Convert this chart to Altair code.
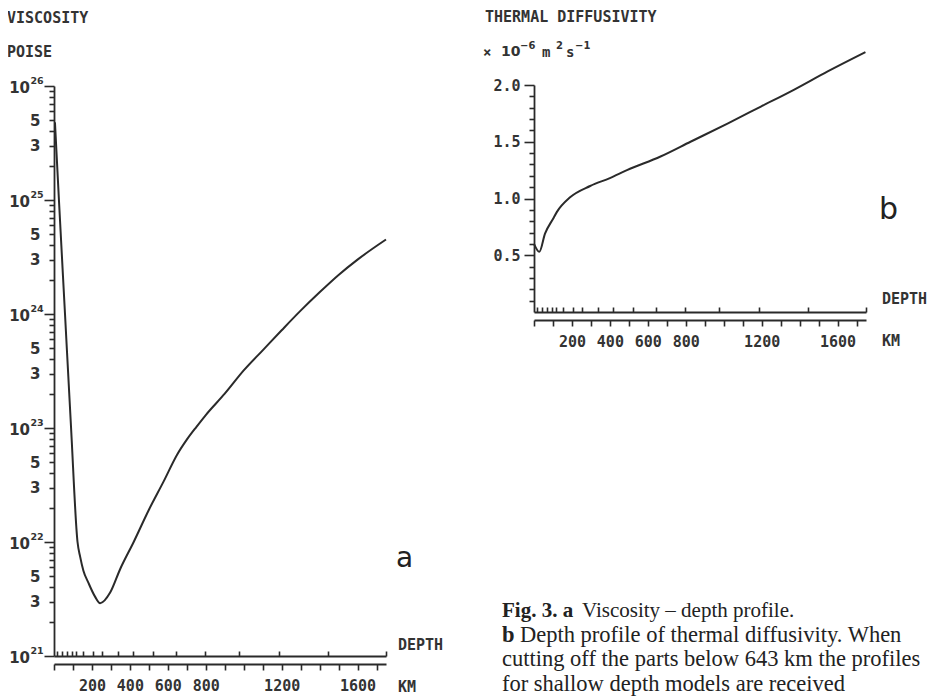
import altair as alt
import pandas as pd

# ---------------- data ----------------
# a) viscosity (poise) vs depth (km)
depth_a = [5, 26, 58, 90, 124, 138, 155, 181, 217, 243, 296, 349, 420, 499, 578, 648, 700, 750,
           800, 900, 1000, 1100, 1200, 1300, 1400, 1500, 1600, 1750]
visc_a = [4.8e25, 1.0e25, 1.0e24, 1.0e23, 1.0e22, 7.4e21, 5.6e21, 4.4e21, 3.3e21, 2.9e21, 3.6e21, 5.8e21,
          1.0e22, 1.9e22, 3.4e22, 5.8e22, 7.9e22, 1.02e23,
          1.3e23, 2.0e23, 3.2e23, 4.8e23, 7.2e23, 1.07e24, 1.55e24, 2.2e24, 3.0e24, 4.5e24]

# b) thermal diffusivity (1e-6 m^2/s) vs depth (km)
depth_b = [0, 28, 58, 100, 120, 190, 296, 400, 490, 667, 825, 1020, 1196, 1372, 1548, 1747]
diff_b = [0.60, 0.53, 0.69, 0.82, 0.88, 1.01, 1.11, 1.18, 1.25, 1.37, 1.50, 1.66, 1.81, 1.96, 2.12, 2.29]

# model node depths marked on the inner depth axis
node_depths = [18, 40, 68, 95, 118, 155, 205, 255, 335, 418, 522, 645, 795, 975, 1188, 1442, 1750]

# tick values and labels
km_ticks = list(range(0, 1800, 100))
km_labels = [200, 400, 600, 800, 1200, 1600]
decades = [21, 22, 23, 24, 25, 26]
mantissas = [1, 2, 3, 4, 5, 6, 7, 8, 9]
labelled_mantissas = [3, 5]
diff_ticks = [round(0.1 * i, 1) for i in range(1, 21)]
diff_labels = [0.5, 1.0, 1.5, 2.0]

# ---------------- layout constants ----------------
W, H = 920, 688
FONT = "DejaVu Sans Mono"
SANS = "DejaVu Sans"
INK = "#2a2a2a"
LAB = "#333"

a_x0, a_x1 = 46, 378
a_ybot, a_ytop = 648, 78
b_x0, b_x1 = 526, 858
b_ybot, b_ytop = 304, 77

# ---------------- derived tick lists ----------------
visc_ticks = [float(f"{m}e{d}") for d in decades[:-1] for m in mantissas] + [float(f"1e{decades[-1]}")]
visc_major = [float(f"1e{d}") for d in decades]
lab_map = {}
for d in decades[:-1]:
    for m in labelled_mantissas:
        lab_map[float(f"{m}e{d}")] = str(m)
visc_label_expr = ""
for v, t in lab_map.items():
    visc_label_expr += f"datum.value == {v!r} ? '{t}' : "
visc_label_expr += "''"

km_label_expr = "indexof(" + str(km_labels) + ", datum.value) >= 0 ? '' + datum.value : ''"
diff_label_expr = "indexof(" + str(diff_labels) + ", datum.value) >= 0 ? format(datum.value, '.1f') : ''"

axis_style = dict(
    grid=False, title=None, domainColor=INK, tickColor=INK, domainWidth=1.8, tickWidth=1.6,
    labelFont=FONT, labelFontWeight="bold", labelColor=LAB, labelFontSize=15,
    labelOverlap=False, labelFlush=False, labelBound=False,
)

df_a = pd.DataFrame({"depth": depth_a, "visc": visc_a})
df_b = pd.DataFrame({"depth": depth_b, "diff": diff_b})
df_n = pd.DataFrame({"node": node_depths})
df_dec = pd.DataFrame({"v": [float(f"1e{d}") for d in decades], "e": [str(d) for d in decades]})

xa_scale = alt.Scale(domain=[0, 1750], range=[a_x0, a_x1], nice=False, zero=False)
xb_scale = alt.Scale(domain=[0, 1750], range=[b_x0, b_x1], nice=False, zero=False)
ya_scale = alt.Scale(type="log", domain=[1e21, 1e26], range=[a_ybot, a_ytop], nice=False)

y_style_a = dict(axis_style)
y_style_a.update(labelFont=SANS, labelFontSize=15)

line_a = alt.Chart(df_a).mark_line(color=INK, strokeWidth=2, interpolate="monotone").encode(
    x=alt.X("depth:Q", scale=xa_scale,
            axis=alt.Axis(orient="bottom", offset=(a_ybot + 8) - H, values=km_ticks, labelExpr=km_label_expr,
                          tickSize=6, labelPadding=8, **axis_style)),
    y=alt.Y("visc:Q", scale=ya_scale,
            axis=alt.Axis(orient="left", offset=-a_x0, values=visc_ticks, labelExpr=visc_label_expr,
                          tickSize={"condition": {"test": f"indexof({visc_major}, datum.value) >= 0", "value": 10}, "value": 5},
                          labelPadding=9, **y_style_a)),
)

# decade labels "10" with a raised exponent, placed through the same log scale
dec_base = alt.Chart(df_dec).mark_text(
    text="10", font=SANS, fontSize=15, fontWeight="bold", color=LAB, align="right", baseline="middle", dy=2
).encode(y=alt.Y("v:Q", scale=ya_scale, axis=None), x=alt.value(22))
dec_exp = alt.Chart(df_dec).mark_text(
    font=SANS, fontSize=9.5, fontWeight="bold", color=LAB, align="left", baseline="middle", dy=-5, dx=0.5
).encode(y=alt.Y("v:Q", scale=ya_scale, axis=None), x=alt.value(22), text="e:N")

nodes_a = alt.Chart(df_n).mark_point(opacity=0).encode(
    x=alt.X("node:Q", scale=xa_scale,
            axis=alt.Axis(orient="top", offset=-a_ybot, values=node_depths, labels=False, tickSize=5, **axis_style)),
)

line_b = alt.Chart(df_b).mark_line(color=INK, strokeWidth=2, interpolate="monotone").encode(
    x=alt.X("depth:Q", scale=xb_scale,
            axis=alt.Axis(orient="bottom", offset=(b_ybot + 8) - H, values=km_ticks, labelExpr=km_label_expr,
                          tickSize=6, labelPadding=8, **axis_style)),
    y=alt.Y("diff:Q", scale=alt.Scale(domain=[0, 2], range=[b_ybot, b_ytop], nice=False, zero=False),
            axis=alt.Axis(orient="left", offset=-b_x0, values=diff_ticks, labelExpr=diff_label_expr,
                          tickSize={"condition": {"test": "abs(datum.value*2 - round(datum.value*2)) < 0.001", "value": 10}, "value": 5},
                          labelPadding=4, **axis_style)),
)

nodes_b = alt.Chart(df_n).mark_point(opacity=0).encode(
    x=alt.X("node:Q", scale=xb_scale,
            axis=alt.Axis(orient="top", offset=-b_ybot, values=node_depths, labels=False, tickSize=5, **axis_style)),
)

one = pd.DataFrame({"k": [0]})


def label(text, x, y, size=15, font=FONT, weight="bold", color=LAB, baseline="middle", align="left"):
    return alt.Chart(one).mark_text(
        text=text, font=font, fontSize=size, fontWeight=weight, color=color, align=align, baseline=baseline
    ).encode(x=alt.value(x), y=alt.value(y))


SERIF = "Liberation Serif"
CAP = "#222"
texts = [
    label("VISCOSITY", -1, 10),
    label("POISE", -1, 44),
    label("THERMAL DIFFUSIVITY", 477, 9),
    # unit line: × 10^-6 m^2 s^-1
    label("×", 475, 45, size=14),
    label("10", 493, 44, font=SANS, size=14),
    label("−6", 512, 38, font=SANS, size=10),
    label("m", 534, 45, size=14),
    label("2", 548, 38, font=SANS, size=10),
    label("s", 558, 45, size=14),
    label("−1", 567, 38, font=SANS, size=10),
    label("DEPTH", 390, 637),
    label("KM", 390, 679),
    label("DEPTH", 874, 291),
    label("KM", 874, 333),
    label("a", 388, 551, size=28, font=SANS, weight="normal", color=CAP),
    label("b", 871, 202, size=30, font=SANS, weight="normal", color=CAP),
    label("Fig. 3. a", 494, 609, size=21, font=SERIF, weight="bold", color=CAP, baseline="alphabetic"),
    label("Viscosity – depth profile.", 574, 609, size=21, font=SERIF, weight="normal", color=CAP, baseline="alphabetic"),
    label("b", 494, 634, size=22.5, font=SERIF, weight="bold", color=CAP, baseline="alphabetic"),
    label("Depth profile of thermal diffusivity. When", 512, 634, size=22.5, font=SERIF, weight="normal", color=CAP, baseline="alphabetic"),
    label("cutting off the parts below 643 km the profiles", 494, 658, size=22.5, font=SERIF, weight="normal", color=CAP, baseline="alphabetic"),
    label("for shallow depth models are received", 494, 683, size=22.5, font=SERIF, weight="normal", color=CAP, baseline="alphabetic"),
]

chart = alt.layer(line_a, dec_base, dec_exp, nodes_a, line_b, nodes_b, *texts).resolve_scale(
    x="independent", y="independent"
).resolve_axis(x="independent", y="independent").properties(
    width=W, height=H, autosize=alt.AutoSizeParams(type="none"), padding=0
).configure(background="white").configure_view(stroke=None)

chart.save("out.html", embed_options={"renderer": "svg", "actions": False})
